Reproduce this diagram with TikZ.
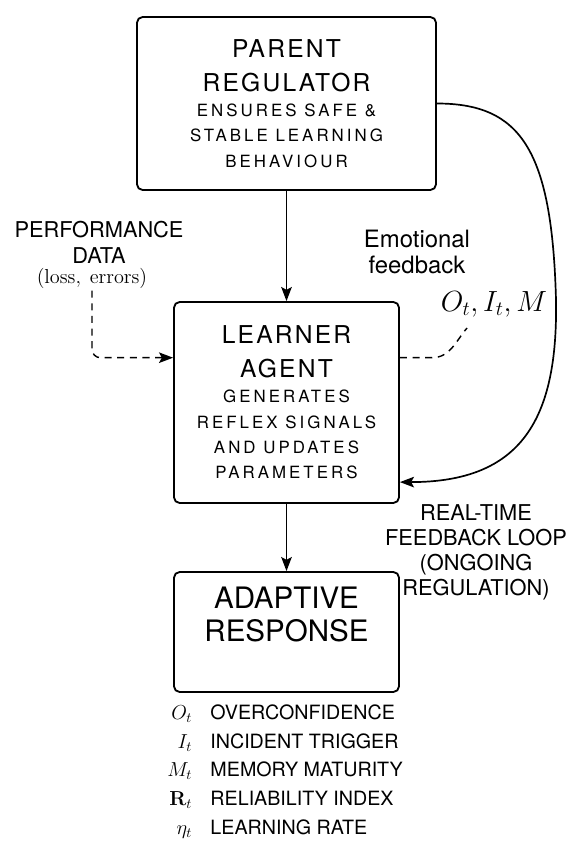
\documentclass[tikz,border=0pt]{standalone}
\usepackage[no-math]{fontspec}
\setmainfont{TeX Gyre Heros}
\newfontfamily\spacedfont[LetterSpace=9]{TeX Gyre Heros}
\newfontfamily\widespacedfont[LetterSpace=18]{TeX Gyre Heros}
\usetikzlibrary{arrows.meta,calc}
\newcommand{\headfont}{\spacedfont\fontsize{17.5}{21}\selectfont}
\newcommand{\notefont}{\widespacedfont\fontsize{12}{18}\selectfont}

\begin{document}
\begin{tikzpicture}[
    stage/.style={draw, line width=1.3pt, rounded corners=4pt, align=center, font=\notefont},
    flow/.style={line width=1.2pt, -{Stealth[length=10pt,width=7.5pt,inset=2pt]}},
    hint/.style={line width=1pt, dash pattern=on 5pt off 4pt}
]
\useasboundingbox (0,0) rectangle (14.6,-21.6);
% boxes
\node[stage, minimum width=7.475cm, minimum height=4.325cm] (parent) at (7.1625,-2.5875)
    {{\headfont PARENT}\\[6pt]{\headfont REGULATOR}\\ENSURES SAFE \&\\STABLE LEARNING\\BEHAVIOUR};
\node[stage, minimum width=5.625cm, minimum height=5.025cm] (learner) at (7.1625,-10.0625)
    {{\headfont LEARNER}\\[6pt]{\headfont AGENT}\\GENERATES\\REFLEX SIGNALS\\AND UPDATES\\PARAMETERS};
\node[stage, minimum width=5.625cm, minimum height=3cm] (adaptive) at (7.1625,-15.8) {};
\node[font=\fontsize{21}{23.5}\selectfont, align=center] (adaptivetext) at (7.1625,-15.36) {ADAPTIVE\\RESPONSE};
% side labels
\node[font=\fontsize{15.5}{18.5}\selectfont, align=center, inner sep=1pt] (perf) at (2.475,-6.06) {PERFORMANCE\\DATA};
\node[inner sep=1pt, font=\fontsize{14}{17}\selectfont] (loss) at (2.3,-6.97) {$(\mathrm{loss},\ \mathrm{errors})$};
\node[font=\fontsize{17}{19}\selectfont, align=center] (emo) at (10.425,-6.3) {Emotional\\feedback};
\node[font=\fontsize{20}{24}\selectfont] (signals) at (12.35,-7.6) {$O_t, I_t, M$};
\coordinate (emoend) at (11.675,-8.2);
\coordinate (turn) at (13.9,-7.5);
\node[font=\fontsize{15.5}{17.8}\selectfont, align=center] (loop) at (11.9,-13.8)
    {REAL-TIME\\FEEDBACK LOOP\\(ONGOING\\REGULATION)};
% legend
\node[font=\fontsize{14}{17}\selectfont] (legend) at (7.125,-19.275)
    {\renewcommand{\arraystretch}{1.2}%
    \begin{tabular}{@{}r@{\hspace{13pt}}l@{}}
    $O_t$ & OVERCONFIDENCE\\
    $I_t$ & INCIDENT TRIGGER\\
    $M_t$ & MEMORY MATURITY\\
    $\mathbf{R}_t$ & RELIABILITY INDEX\\
    $\eta_t$ & LEARNING RATE
    \end{tabular}};
% connectors
\draw[flow] (parent) -- (learner);
\draw[flow] (learner) -- (adaptive);
\draw[flow] (parent.east) .. controls +(2.1,0) and +(-0.1,3.75) .. (turn)
    .. controls +(0.05,-3) and +(3.025,0) .. ([yshift=-1.99cm]learner.east);
\draw[hint, rounded corners=6pt, -{Stealth[length=10pt,width=7.5pt,inset=2pt]}]
    (loss.south) |- ([yshift=1.12cm]learner.west);
\draw[hint] ([yshift=1.12cm]learner.east) -- ++(0.8,0) to[out=0,in=230] (emoend);
\end{tikzpicture}
\end{document}
